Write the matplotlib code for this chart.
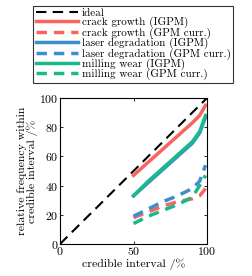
import matplotlib
matplotlib.use("Agg")
import matplotlib.pyplot as plt

plt.rcParams['font.family'] = ['cmr10', 'DejaVu Serif']
plt.rcParams['mathtext.fontset'] = 'cm'
plt.rcParams['axes.formatter.use_mathtext'] = True

ci = [50, 60, 70, 80, 90, 95, 99]

crack_igpm = [47, 56, 65, 74, 83, 88, 95]
crack_gpm = [18, 22, 26, 29, 31, 33, 38]
laser_igpm = [33, 42, 51, 60, 69, 76, 87]
laser_gpm = [19, 24, 29, 33, 38, 43, 54]
wear_igpm = [33, 43, 52, 61, 70, 77, 88]
wear_gpm = [14, 19, 23, 27, 32, 40, 47]

red = '#f8645f'
blue = '#3b8fcf'
green = '#1ab88a'

fig = plt.figure(figsize=(2.52, 2.76), dpi=100)
ax = fig.add_axes([60 / 252, 1 - 244 / 276, 147 / 252, 146 / 276])

ax.plot([0, 100], [0, 100], color='black', ls=(0, (5, 3)), lw=1.5, label='ideal')
ax.plot(ci, crack_igpm, color=red, lw=2.5, label='crack growth (IGPM)')
ax.plot(ci, crack_gpm, color=red, lw=2.5, ls=(0, (3, 2)), label='crack growth (GPM curr.)')
ax.plot(ci, laser_igpm, color=blue, lw=2.5, label='laser degradation (IGPM)')
ax.plot(ci, laser_gpm, color=blue, lw=2.5, ls=(0, (3, 2)), label='laser degradation (GPM curr.)')
ax.plot(ci, wear_igpm, color=green, lw=2.5, label='milling wear (IGPM)')
ax.plot(ci, wear_gpm, color=green, lw=2.5, ls=(0, (3, 2)), label='milling wear (GPM curr.)')

ax.set_xlim(0, 100)
ax.set_ylim(0, 100)
ax.set_xticks([0, 50, 100])
ax.set_yticks([0, 20, 40, 60, 80, 100])
ax.tick_params(labelsize=8.5, direction='in', length=2.5, width=0.6, pad=1,
               top=True, right=True)
for s in ax.spines.values():
    s.set_linewidth(0.8)
ax.set_xlabel('credible interval /%', fontsize=8.5, labelpad=1)
ax.set_ylabel('relative frequency within\ncredible interval /%', fontsize=8.5,
              labelpad=1, linespacing=0.95)

handles, labels = ax.get_legend_handles_labels()
leg = fig.legend(handles, labels, loc='upper right', bbox_to_anchor=(233 / 252, 1 - 6 / 276),
                 fontsize=8, frameon=True, fancybox=False, edgecolor='black',
                 handlelength=3.8, borderpad=0.2, labelspacing=-0.08, handletextpad=0.35,
                 borderaxespad=0)
leg.get_frame().set_linewidth(0.8)

fig.savefig('out.png', dpi=100)
